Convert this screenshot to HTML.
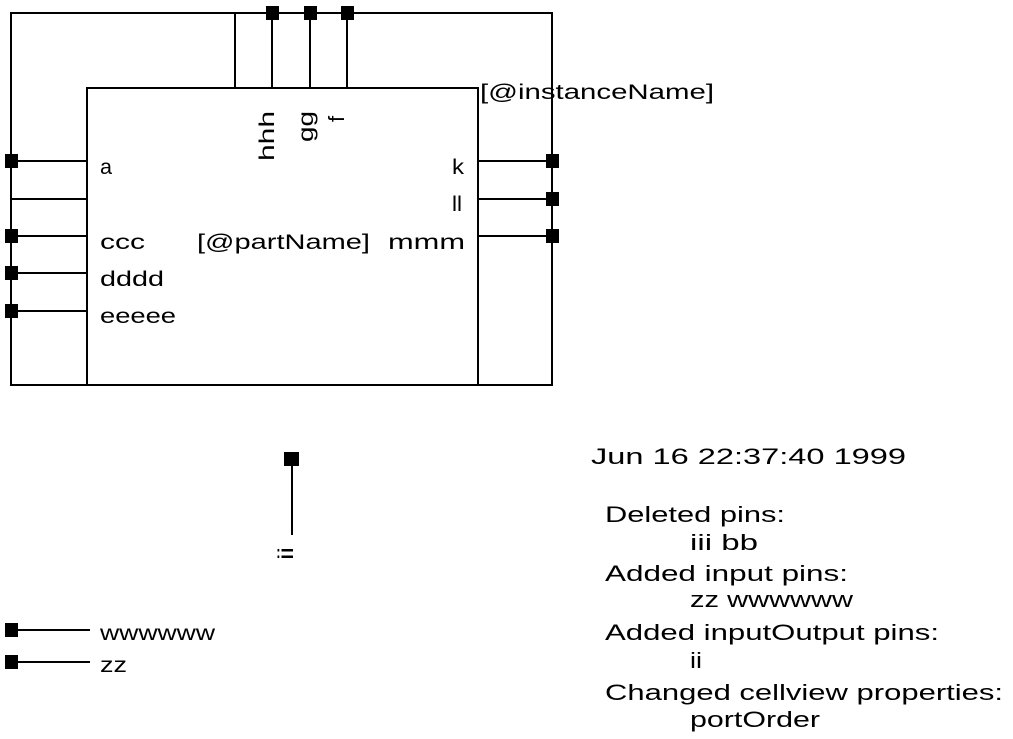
<!DOCTYPE html>
<html><head><style>body{margin:0;background:#fff}svg{display:block}text{font-family:"Liberation Sans",sans-serif;fill:#000}</style></head>
<body>
<svg width="1013" height="739" viewBox="0 0 1013 739" xmlns="http://www.w3.org/2000/svg">
<g stroke="#000" stroke-width="2" fill="none">
<rect x="11" y="13" width="541" height="372"/>
<rect x="87" y="88" width="391" height="297"/>
<line x1="235" y1="13" x2="235" y2="88"/>
<line x1="272" y1="13" x2="272" y2="88"/>
<line x1="310" y1="13" x2="310" y2="88"/>
<line x1="347" y1="13" x2="347" y2="88"/>
<line x1="11" y1="161" x2="87" y2="161"/>
<line x1="11" y1="199" x2="87" y2="199"/>
<line x1="11" y1="236" x2="87" y2="236"/>
<line x1="11" y1="273" x2="87" y2="273"/>
<line x1="11" y1="311" x2="87" y2="311"/>
<line x1="478" y1="161" x2="552" y2="161"/>
<line x1="478" y1="199" x2="552" y2="199"/>
<line x1="478" y1="236" x2="552" y2="236"/>
<line x1="292" y1="459" x2="292" y2="535"/>
<line x1="11" y1="630" x2="90" y2="630"/>
<line x1="11" y1="662" x2="90" y2="662"/>
</g>
<g fill="#000">
<rect x="266" y="6" width="13" height="14"/><rect x="304" y="6" width="13" height="14"/><rect x="341" y="6" width="13" height="14"/>
<rect x="5" y="154" width="13" height="14"/><rect x="5" y="229" width="13" height="14"/><rect x="5" y="266" width="13" height="14"/><rect x="5" y="304" width="13" height="14"/>
<rect x="546" y="154" width="13" height="14"/><rect x="546" y="192" width="13" height="14"/><rect x="546" y="229" width="13" height="14"/>
<rect x="284" y="452" width="15" height="14"/>
<rect x="5" y="623" width="13" height="14"/><rect x="5" y="655" width="13" height="14"/>
</g>
<g font-size="21">
<text x="100" y="174" textLength="12" lengthAdjust="spacingAndGlyphs">a</text>
<text x="100" y="249" textLength="45" lengthAdjust="spacingAndGlyphs">ccc</text>
<text x="100" y="286" textLength="64" lengthAdjust="spacingAndGlyphs">dddd</text>
<text x="100" y="323" textLength="76" lengthAdjust="spacingAndGlyphs">eeeee</text>
<text x="197" y="249" textLength="173" lengthAdjust="spacingAndGlyphs">[@partName]</text>
<text x="388" y="249" textLength="77" lengthAdjust="spacingAndGlyphs">mmm</text>
<text x="452" y="174" textLength="12" lengthAdjust="spacingAndGlyphs">k</text>
<text x="452" y="211" textLength="10" lengthAdjust="spacingAndGlyphs">ll</text>
<text x="480" y="99" textLength="234" lengthAdjust="spacingAndGlyphs">[@instanceName]</text>
<text transform="translate(274,161) rotate(-90)" textLength="50" lengthAdjust="spacingAndGlyphs">hhh</text>
<text transform="translate(313,142) rotate(-90)" textLength="31" lengthAdjust="spacingAndGlyphs">gg</text>
<text transform="translate(344,122) rotate(-90)" font-size="22">f</text>
<text transform="translate(293,560) rotate(-90)" textLength="13" lengthAdjust="spacingAndGlyphs">ii</text>
<text x="100" y="640" textLength="115" lengthAdjust="spacingAndGlyphs">wwwwww</text>
<text x="100" y="672" textLength="27" lengthAdjust="spacingAndGlyphs">zz</text>
</g>
<g font-size="22">
<text x="591" y="464" textLength="315" lengthAdjust="spacingAndGlyphs">Jun 16 22:37:40 1999</text>
<text x="605" y="522" textLength="180" lengthAdjust="spacingAndGlyphs">Deleted pins:</text>
<text x="690" y="550" textLength="68" lengthAdjust="spacingAndGlyphs">iii bb</text>
<text x="605" y="581" textLength="243" lengthAdjust="spacingAndGlyphs">Added input pins:</text>
<text x="690" y="607" textLength="163" lengthAdjust="spacingAndGlyphs">zz wwwwww</text>
<text x="605" y="640" textLength="334" lengthAdjust="spacingAndGlyphs">Added inputOutput pins:</text>
<text x="690" y="668" textLength="12" lengthAdjust="spacingAndGlyphs">ii</text>
<text x="605" y="700" textLength="398" lengthAdjust="spacingAndGlyphs">Changed cellview properties:</text>
<text x="690" y="727" textLength="130" lengthAdjust="spacingAndGlyphs">portOrder</text>
</g>
</svg>
</body></html>
